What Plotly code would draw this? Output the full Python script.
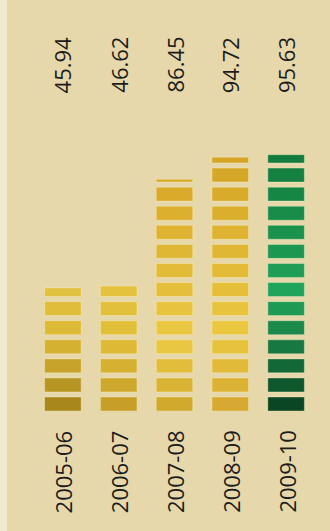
import plotly.graph_objects as go

# Seasons and the values shown above each column
seasons = ["2005-06", "2006-07", "2007-08", "2008-09", "2009-10"]
values = [45.94, 46.62, 86.45, 94.72, 95.63]
value_labels = ["45.94", "46.62", "86.45", "94.72", "95.63"]

# Colour stops per column, as (fraction of column height, colour)
column_colors = [
    [(0.0, "#a3821a"), (0.6, "#dcb834"), (1.0, "#e2c242")],
    [(0.0, "#c49c26"), (0.6, "#e2be38"), (1.0, "#e4c23e")],
    [(0.0, "#cea52b"), (0.3, "#ebca43"), (1.0, "#d8a828")],
    [(0.0, "#d4a62e"), (0.3, "#ebc840"), (1.0, "#d4a426")],
    [(0.0, "#0a4020"), (0.45, "#21a55c"), (1.0, "#127a3c")],
]

STEP = 7.12      # stripe period in value units
BLOCK = 5.2      # filled part of each stripe
Y_MAX = 100

W, H = 330, 531
M_L, M_R, M_T, M_B = 35, 16, 143, 120
BG = "#e6d8ab"
TEXT = "#1c1c1c"
FONT = "Open Sans"


def hex_to_rgb(h):
    h = h.lstrip("#")
    return tuple(int(h[i:i + 2], 16) for i in (0, 2, 4))


def color_at(stops, f):
    f = max(0.0, min(1.0, f))
    for (f0, c0), (f1, c1) in zip(stops, stops[1:]):
        if f0 <= f <= f1:
            t = (f - f0) / (f1 - f0) if f1 > f0 else 0
            a, b = hex_to_rgb(c0), hex_to_rgb(c1)
            r = [round(a[i] + (b[i] - a[i]) * t) for i in range(3)]
            return "rgb({},{},{})".format(*r)
    return stops[-1][1]


fig = go.Figure()

n_stripes = int(max(values) // STEP) + 1
for k in range(n_stripes):
    base = k * STEP
    xs, bases, heights, colors = [], [], [], []
    for i, v in enumerate(values):
        h = min(BLOCK, v - base)
        if h <= 0:
            continue
        xs.append(seasons[i])
        bases.append(base)
        heights.append(h)
        colors.append(color_at(column_colors[i], (base + h / 2) / v))
    fig.add_trace(go.Bar(
        x=xs, y=heights, base=bases,
        marker=dict(color=colors, line=dict(color="rgba(255,245,210,0.35)", width=1)),
        width=0.655, hoverinfo="skip", showlegend=False,
    ))

plot_h = H - M_T - M_B
for s, lab in zip(seasons, value_labels):
    fig.add_annotation(
        x=s, xref="x", y=(H - M_B - 95) / plot_h, yref="paper",
        text=lab, textangle=-90, showarrow=False,
        xanchor="center", yanchor="bottom",
        font=dict(family=FONT, size=22, color=TEXT),
    )
    fig.add_annotation(
        x=s, xref="x", y=(H - M_B - 428) / plot_h, yref="paper",
        text=s, textangle=-90, showarrow=False,
        xanchor="center", yanchor="top",
        font=dict(family=FONT, size=22, color=TEXT),
    )

# light strip along the left edge
plot_w = W - M_L - M_R
fig.add_shape(
    type="rect", xref="paper", yref="paper",
    x0=-M_L / plot_w, x1=(7 - M_L) / plot_w,
    y0=-M_B / plot_h, y1=(H - M_B) / plot_h,
    fillcolor="#f1e9cf", line=dict(width=0), layer="below",
)

fig.update_layout(
    width=W, height=H,
    margin=dict(l=M_L, r=M_R, t=M_T, b=M_B),
    paper_bgcolor=BG, plot_bgcolor=BG,
    barmode="overlay",
    xaxis=dict(type="category", range=[-0.5, 4.5], showgrid=False,
               zeroline=False, showticklabels=False, showline=False),
    yaxis=dict(range=[0, Y_MAX], showgrid=False, zeroline=False,
               showticklabels=False, showline=False),
)

fig.write_html("out.html")
